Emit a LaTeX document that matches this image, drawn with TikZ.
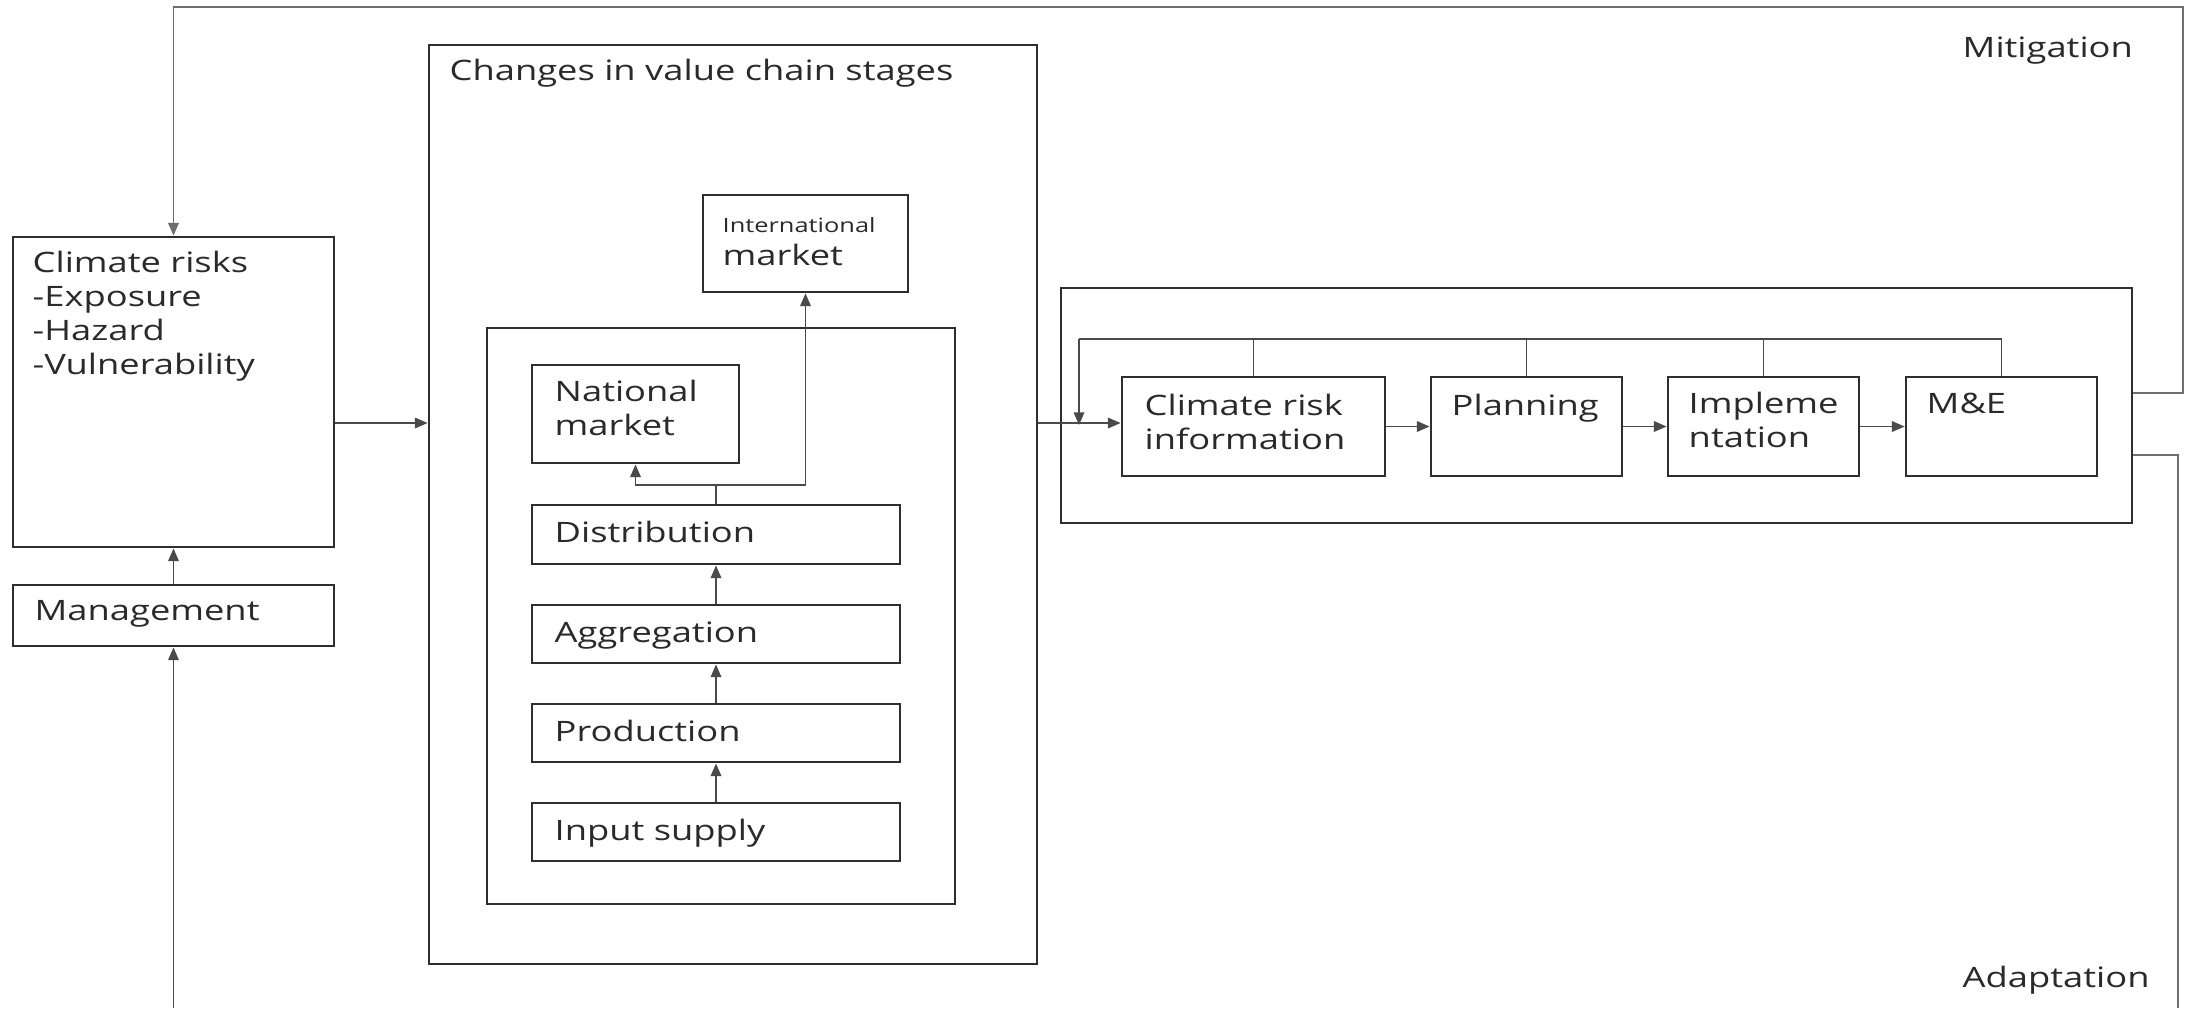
\documentclass[tikz,border=0pt]{standalone}
\usepackage{fontspec}
\setmainfont{Open Sans}[FakeStretch=1.29]
\usetikzlibrary{arrows.meta,fit}
\definecolor{boxc}{HTML}{2E2E2E}
\definecolor{linec}{HTML}{4A4A4A}
\definecolor{loopc}{HTML}{6E6E6E}
\definecolor{txtc}{HTML}{2A2A2A}
\tikzset{
  box/.style={draw=boxc, line width=0.8pt, inner sep=0pt, rectangle},
  lbl/.style={inner sep=0pt, text=txtc, font=\fontsize{8pt}{9.6pt}\selectfont, align=left, anchor=base west},
  smalllbl/.style={lbl, font=\fontsize{5.6pt}{7pt}\selectfont},
  conn/.style={draw=linec, line width=0.45pt},
  arr/.style={conn, -{Triangle[length=3.6pt,width=3pt]}},
  loopl/.style={draw=loopc, line width=0.5pt},
}
\begin{document}
\begin{tikzpicture}[x=0.01cm,y=-0.01cm]
\useasboundingbox (0,0) rectangle (2185,1008);
\fill[white] (0,0) rectangle (2185,1008);

% boxes
\node[box, fit={(13,237) (334,547)}] (clim) {};
\node[box, fit={(13,585) (334,646)}] (mgmt) {};
\node[box, fit={(429,45) (1037,964)}] (vc) {};
\node[box, fit={(703,195) (908,292)}] (intl) {};
\node[box, fit={(487,328) (955,904)}] (inner) {};
\node[box, fit={(532,365) (739,463)}] (natl) {};
\node[box, fit={(532,505) (900,564)}] (dist) {};
\node[box, fit={(532,605) (900,663)}] (aggr) {};
\node[box, fit={(532,704) (900,762)}] (prod) {};
\node[box, fit={(532,803) (900,861)}] (inp) {};
\node[box, fit={(1061,288) (2132,523)}] (cycle) {};
\node[box, fit={(1122,377) (1385,476)}] (cri) {};
\node[box, fit={(1431,377) (1622,476)}] (plan) {};
\node[box, fit={(1668,377) (1859,476)}] (impl) {};
\node[box, fit={(1906,377) (2097,476)}] (me) {};

% labels (multi-line labels are placed at the baseline of their last line)
\node[lbl] (tclim) at (32,374) {Climate risks\\-Exposure\\-Hazard\\-Vulnerability};
\node[lbl] (tmgmt) at (34,620) {Management};
\node[lbl] (tvc) at (449,80) {Changes in value chain stages};
\node[smalllbl] (tintl1) at (722,232) {International};
\node[lbl] (tintl2) at (722,265) {market};
\node[lbl] (tnatl) at (554,435) {National\\market};
\node[lbl] (tdist) at (554,542) {Distribution};
\node[lbl] (taggr) at (554,642) {Aggregation};
\node[lbl] (tprod) at (554,741) {Production};
\node[lbl] (tinp) at (554,840) {Input supply};
\node[lbl] (tcri) at (1144,449) {Climate risk\\information};
\node[lbl] (tplan) at (1451,415) {Planning};
\node[lbl] (timpl) at (1688,447) {Impleme\\ntation};
\node[lbl] (tme) at (1926,413) {M\&E};
\node[lbl] (tmit) at (1962,57) {Mitigation};
\node[lbl] (tada) at (1962,987) {Adaptation};

% helper coordinates
\coordinate (r1) at (0,423);
\coordinate (fb) at (1079,339);
\coordinate (jn) at (0,485);
\coordinate (bot) at (0,1008);
\coordinate (topl) at (0,7);
\coordinate (mitc) at (2183,393);
\coordinate (adac) at (2178,455);

% left column
\draw[arr] (mgmt.north) -- (clim.south);
\draw[arr] (mgmt.south |- bot) -- (mgmt.south);
\draw[arr] (clim.east |- r1) -- (vc.west |- r1);

% value chain
\draw[arr] (inp.north) -- (prod.south);
\draw[arr] (prod.north) -- (aggr.south);
\draw[arr] (aggr.north) -- (dist.south);
\draw[conn] (dist.north) -- (dist.north |- jn);
\draw[arr] (dist.north |- jn) -| (natl.south);
\draw[arr] (dist.north |- jn) -| (intl.south);

% cycle
\draw[arr] (vc.east |- r1) -- (cri.west |- r1);
\draw[arr] (cri.east) -- (plan.west);
\draw[arr] (plan.east) -- (impl.west);
\draw[arr] (impl.east) -- (me.west);
\draw[conn] (me.north) |- (fb);
\draw[conn] (cri.north) -- (cri.north |- fb);
\draw[conn] (plan.north) -- (plan.north |- fb);
\draw[conn] (impl.north) -- (impl.north |- fb);
\draw[arr] (fb) -- ([yshift=-0.02cm]fb |- r1);

% outer loops
\draw[loopl, -{Triangle[length=3.6pt,width=3pt]}] (cycle.east |- mitc) -- (mitc) |- (clim.north |- topl) -- (clim.north);
\draw[loopl] (cycle.east |- adac) -- (adac) -- (adac |- bot);
\end{tikzpicture}
\end{document}
